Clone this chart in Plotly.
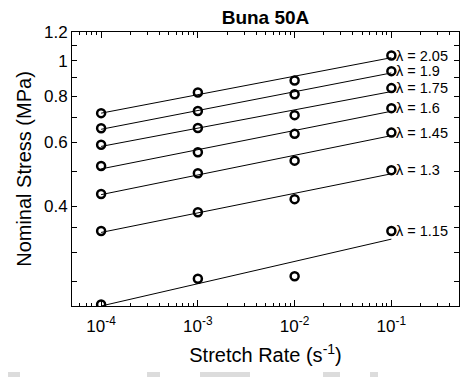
import numpy as np
import plotly.graph_objects as go

# Stretch rates (1/s) and stretch levels
rates = [1e-4, 1e-3, 1e-2, 1e-1]
stretches = [2.05, 1.9, 1.75, 1.6, 1.45, 1.3, 1.15]

# Nominal stress (MPa) at each rate, one list per stretch level
stress_205 = [0.720, 0.820, 0.884, 1.035]
stress_190 = [0.655, 0.730, 0.811, 0.938]
stress_175 = [0.590, 0.656, 0.711, 0.843]
stress_160 = [0.516, 0.563, 0.632, 0.743]
stress_145 = [0.433, 0.493, 0.534, 0.637]
stress_130 = [0.343, 0.386, 0.419, 0.503]
stress_115 = [0.216, 0.254, 0.258, 0.343]
stress_sets = [stress_205, stress_190, stress_175, stress_160,
               stress_145, stress_130, stress_115]

# Axis ticks
x_major = [1e-4, 1e-3, 1e-2, 1e-1]
x_major_text = ["10<sup>-4</sup>", "10<sup>-3</sup>", "10<sup>-2</sup>", "10<sup>-1</sup>"]
x_minor = [m * 10.0 ** e for e in range(-5, 0) for m in range(2, 10)]
y_major = [0.4, 0.6, 0.8, 1.0, 1.2]
y_major_text = ["0.4", "0.6", "0.8", "1", "1.2"]
y_minor = [0.25, 0.3, 0.35, 0.5, 0.7, 0.9, 1.1]

FONT = "Liberation Sans, Arial, Helvetica, sans-serif"
W, H = 460, 377
L, R, T, B = 72, 1, 32, 71

fig = go.Figure()
lx = np.log10(rates)
line_ends = []
for lam, ys in zip(stretches, stress_sets):
    # power-law fit (straight line in log-log space)
    slope, icpt = np.polyfit(lx, np.log10(ys), 1)
    xe = np.array([lx[0], lx[-1]])
    ye = 10 ** (icpt + slope * xe)
    line_ends.extend(ye.tolist())
    fig.add_trace(go.Scatter(x=10 ** xe, y=ye, mode="lines",
                             line=dict(color="black", width=1),
                             showlegend=False, hoverinfo="skip"))
    fig.add_trace(go.Scatter(x=rates, y=ys, mode="markers",
                             marker=dict(symbol="circle-open", size=8, color="black",
                                         line=dict(width=2.5, color="black")),
                             showlegend=False))
    fig.add_annotation(x=np.log10(rates[-1]), y=np.log10(ys[-1]),
                       text=f"λ = {lam:g}", showarrow=False,
                       xanchor="left", yanchor="middle", xshift=3,
                       font=dict(family=FONT, size=14.5, color="black"))

y_low = min(min(min(s) for s in stress_sets), min(line_ends))

axis_common = dict(type="log", showline=True, linecolor="black", linewidth=1,
                   mirror="allticks", ticks="inside", tickcolor="black",
                   tickwidth=1, showgrid=False, zeroline=False,
                   tickfont=dict(family=FONT, size=17, color="black"))

fig.update_xaxes(**axis_common, range=[np.log10(5e-5), np.log10(0.5)],
                 tickmode="array", tickvals=x_major, ticktext=x_major_text,
                 ticklen=6, ticklabelstandoff=5,
                 minor=dict(tickmode="array", tickvals=x_minor, ticks="inside",
                            ticklen=3, tickcolor="black", showgrid=False),
                 title=dict(text="Stretch Rate (s<sup>-1</sup>)", standoff=12,
                            font=dict(family=FONT, size=20, color="black")))
fig.update_yaxes(**axis_common, range=[np.log10(y_low), np.log10(1.2)],
                 tickmode="array", tickvals=y_major, ticktext=y_major_text,
                 ticklen=5,
                 minor=dict(tickmode="array", tickvals=y_minor, ticks="inside",
                            ticklen=5, tickcolor="black", showgrid=False),
                 title=dict(text="Nominal Stress (MPa)", standoff=6,
                            font=dict(family=FONT, size=20, color="black")))

# faint marks along the bottom edge
for x0, x1 in [(8, 20), (147, 160), (200, 250), (323, 340), (370, 378)]:
    fig.add_shape(type="rect", xref="paper", yref="paper",
                  x0=(x0 - L) / (W - L - R), x1=(x1 - L) / (W - L - R),
                  y0=(H - B - 377) / (H - T - B), y1=(H - B - 372) / (H - T - B),
                  line=dict(width=0), fillcolor="#dcdcdc", layer="above")

fig.update_layout(
    width=W, height=H,
    margin=dict(l=L, r=R, t=T, b=B, autoexpand=False),
    paper_bgcolor="white", plot_bgcolor="white",
    title=dict(text="<b>Buna 50A</b>", x=(L + (W - R)) / 2 / W, xanchor="center",
               y=1 - 17 / H, yanchor="middle",
               font=dict(family=FONT, size=19, color="black")),
    font=dict(family=FONT, color="black"),
)

fig.write_html("out.html")
